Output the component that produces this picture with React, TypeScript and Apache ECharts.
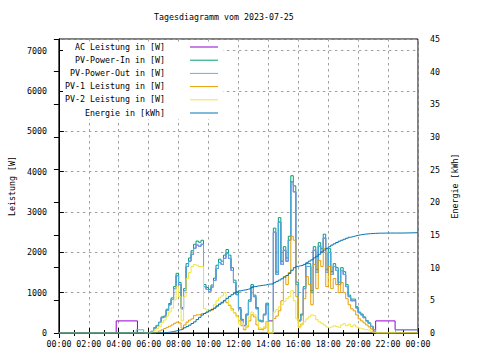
import React, { useEffect, useRef } from "react";
import * as echarts from "echarts";

const chartTitle = "Tagesdiagramm vom 2023-07-25";
const seriesNames = [
  "AC Leistung in [W]",
  "PV-Power-In in [W]",
  "PV-Power-Out in [W]",
  "PV-1 Leistung in [W]",
  "PV-2 Leistung in [W]",
  "Energie in [kWh]",
];
const seriesColors = ["#9400d3", "#009e73", "#56b4e9", "#e69f00", "#f0e442", "#0072b2"];
const leftAxisName = "Leistung [W]";
const rightAxisName = "Energie [kWh]";
const hourTicks = [0, 2, 4, 6, 8, 10, 12, 14, 16, 18, 20, 22, 24];
const powerTicks = [0, 1000, 2000, 3000, 4000, 5000, 6000, 7000];
const energyTicks = [0, 5, 10, 15, 20, 25, 30, 35, 40, 45];

// daytime samples: every 10 minutes from 05:00 to 22:30
const dayStartHour = 5;
const stepMinutes = 10;

const pvOut = [
  0, 80, 80, 80, 0, 0, 0, 40, 120, 180,
  260, 380, 400, 560, 700, 830, 1100, 1420, 1200, 600,
  1050, 1650, 1780, 1950, 2100, 2180, 2150, 2200, 1150, 1080,
  1030, 1140, 1300, 1600, 1750, 1700, 1850, 1980, 1850, 1550,
  1250, 950, 600, 320, 180, 450, 780, 1150, 900, 600,
  300, 280, 450, 700, 0, 0, 2500, 1450, 2750, 1700,
  2050, 1780, 2300, 3750, 3500, 1200, 300, 450, 1100, 1650,
  1650, 1000, 2050, 1500, 2150, 2000, 2350, 1500, 2000, 1450,
  1650, 1550, 1200, 1550, 1450, 1150, 900, 800, 800, 620,
  500, 450, 380, 300, 240, 160, 80, 0, 0, 0,
  0, 0, 0, 0, 0, 80,
];
const pvIn = [
  0, 0, 0, 0, 0, 0, 0, 40, 130, 190,
  270, 400, 420, 590, 730, 870, 1150, 1480, 1250, 630,
  1100, 1720, 1860, 2040, 2200, 2280, 2250, 2300, 1200, 1130,
  1080, 1190, 1360, 1680, 1830, 1780, 1930, 2070, 1930, 1620,
  1310, 1000, 630, 340, 190, 470, 820, 1200, 940, 630,
  320, 300, 470, 740, 0, 0, 2600, 1510, 2860, 1780,
  2140, 1860, 2400, 3900, 3650, 1260, 320, 470, 1150, 1720,
  1720, 1050, 2140, 1570, 2240, 2090, 2450, 1570, 2090, 1520,
  1720, 1620, 1260, 1620, 1520, 1200, 940, 840, 840, 650,
  520, 470, 400, 310, 250, 170, 85, 0, 0, 0,
  0, 0, 0, 0, 0, 0,
];
const pv1 = [
  0, 0, 0, 0, 0, 0, 0, 0, 0, 20,
  50, 80, 110, 140, 170, 200, 240, 270, 250, 120,
  200, 270, 320, 350, 430, 450, 460, 480, 490, 520,
  550, 570, 620, 680, 720, 740, 790, 750, 680, 600,
  500, 420, 300, 180, 80, 150, 300, 450, 400, 200,
  90, 75, 120, 280, 0, 0, 360, 420, 550, 800,
  1400, 1200, 1500, 2400, 2300, 900, 150, 220, 850, 1400,
  1200, 700, 1700, 1100, 1800, 1650, 2100, 1150, 1650, 1100,
  1350, 1200, 1000, 1250, 1000, 850, 700, 600, 550, 450,
  350, 300, 250, 200, 150, 100, 40, 0, 0, 0,
  0, 0, 0, 0, 0, 0,
];
const pv2 = [
  0, 0, 0, 0, 0, 0, 0, 20, 60, 110,
  160, 260, 320, 420, 520, 620, 820, 1150, 900, 300,
  900, 1350, 1500, 1650, 1700, 1680, 1650, 1650, 600, 570,
  560, 600, 700, 800, 870, 920, 1000, 850, 700, 560,
  500, 400, 220, 250, 120, 180, 400, 520, 450, 300,
  130, 110, 160, 270, 0, 0, 520, 580, 650, 700,
  780, 850, 900, 1050, 800, 350, 130, 200, 280, 350,
  400, 450, 430, 330, 280, 240, 200, 150, 130, 150,
  180, 160, 140, 200, 230, 180, 220, 160, 200, 150,
  120, 110, 90, 80, 70, 40, 0, 0, 0, 0,
  0, 0, 0, 0, 0, 0,
];
const energyKwh = [
  0, 0, 0, 0, 0, 0, 0, 0, 0, 0,
  0, 0.02, 0.05, 0.1, 0.15, 0.22, 0.3, 0.4, 0.5, 0.6,
  0.8, 1.0, 1.2, 1.45, 1.7, 2.05, 2.4, 2.75, 3.0, 3.2,
  3.4, 3.6, 3.8, 4.1, 4.4, 4.7, 5.0, 5.3, 5.6, 5.85,
  6.1, 6.3, 6.45, 6.55, 6.6, 6.7, 6.8, 6.95, 7.1, 7.2,
  7.25, 7.3, 7.35, 7.45, 7.5, 7.5, 7.7, 7.9, 8.1, 8.3,
  8.55, 8.8, 9.1, 9.6, 10.0, 10.2, 10.3, 10.35, 10.5, 10.75,
  11.0, 11.2, 11.5, 11.75, 12.05, 12.4, 12.7, 12.95, 13.2, 13.45,
  13.65, 13.85, 14.05, 14.2, 14.35, 14.5, 14.65, 14.75, 14.85, 14.95,
  15.02, 15.08, 15.13, 15.17, 15.2, 15.23, 15.25, 15.27, 15.28, 15.28,
  15.29, 15.29, 15.3, 15.3, 15.3, 15.3,
];

// night segments outside the daytime samples: [hour, value]
const zeroStart = [[0, 0]];
const zeroEnd = [[24, 0]];
const outEnd = [[24, 80]];
const energyEnd = [[23.0, 15.35], [24, 15.45]];
const acStart = [[0, 0], [3.83, 300], [5.25, 0]];
const acEnd = [[21.17, 300], [22.47, 80], [24, 80]];
const acOverride: Record<number, number> = { 54: 300, 55: 300 };
const acFromIndex = 6;
const acToIndex = 96;

const FONT = "DejaVu Sans Mono";
const FS = 8.3;

export default function App() {
  const ref = useRef<HTMLDivElement>(null);
  useEffect(() => {
    if (!ref.current) return;
    const chart = echarts.init(ref.current, undefined, { renderer: "svg" });
    const hours = pvOut.map((_, i) => dayStartHour + (i * stepMinutes) / 60);
    const pair = (arr: number[]) => arr.map((v, i) => [hours[i], v]);
    const acDay: number[][] = [];
    for (let i = acFromIndex; i <= acToIndex; i++) {
      acDay.push([hours[i], acOverride[i] !== undefined ? acOverride[i] : pvOut[i]]);
    }
    const dataSets = [
      [...acStart, ...acDay, ...acEnd],
      [...zeroStart, ...pair(pvIn), ...zeroEnd],
      [...zeroStart, ...pair(pvOut), ...outEnd],
      [...zeroStart, ...pair(pv1), ...zeroEnd],
      [...zeroStart, ...pair(pv2), ...zeroEnd],
      [...zeroStart, ...pair(energyKwh), ...energyEnd],
    ];
    const gridLeft = 58, gridRight = 418, gridTop = 39, gridBottom = 333;
    const splitStyle = { color: "#a0a0a0", width: 1, type: [2.5, 3.5] as any };
    const legendX = 165;
    const legendY0 = 46.5;
    const legendDy = 13.2;
    const graphics: any[] = [
      {
        type: "rect",
        shape: { x: 63, y: 44, width: 160, height: 75 },
        style: { fill: "#fff" },
        z: 50,
      },
    ];
    seriesNames.forEach((n, k) => {
      const y = legendY0 + legendDy * k;
      graphics.push({
        type: "text",
        x: legendX,
        y,
        z: 51,
        style: {
          text: n,
          fill: "#000",
          font: `${FS}px '${FONT}'`,
          textAlign: "right",
          textVerticalAlign: "middle",
        },
      });
      graphics.push({
        type: "line",
        z: 51,
        shape: { x1: 190, y1: y + 0.5, x2: 218, y2: y + 0.5 },
        style: { stroke: seriesColors[k], lineWidth: 1 },
      });
    });

    const txt = { fontFamily: FONT, fontSize: FS, color: "#000" };
    chart.setOption({
      animation: false,
      backgroundColor: "#fff",
      title: {
        text: chartTitle,
        left: 154,
        top: 13,
        padding: 0,
        textStyle: { ...txt, fontWeight: "normal" },
      },
      grid: {
        left: gridLeft,
        top: gridTop,
        width: gridRight - gridLeft,
        height: gridBottom - gridTop,
        show: true,
        borderColor: "#000",
        borderWidth: 1,
        containLabel: false,
      },
      xAxis: [
        {
          type: "value",
          min: hourTicks[0],
          max: hourTicks[hourTicks.length - 1],
          interval: 2,
          position: "bottom",
          axisLine: { lineStyle: { color: "#000", width: 1 } },
          axisTick: { inside: true, length: 5, lineStyle: { color: "#000" } },
          minorTick: { show: true, splitNumber: 2, length: 3, lineStyle: { color: "#000" } },
          axisLabel: {
            ...txt,
            margin: 7,
            formatter: (v: number) => String(v % 24).padStart(2, "0") + ":00",
          },
          splitLine: { show: true, lineStyle: splitStyle },
        },
        {
          type: "value",
          min: hourTicks[0],
          max: hourTicks[hourTicks.length - 1],
          interval: 2,
          position: "top",
          axisLine: { lineStyle: { color: "#000", width: 1 } },
          axisTick: { inside: true, length: 5, lineStyle: { color: "#000" } },
          minorTick: { show: true, splitNumber: 2, length: 3, lineStyle: { color: "#000" } },
          axisLabel: { show: false },
          splitLine: { show: false },
        },
      ],
      yAxis: [
        {
          type: "value",
          min: powerTicks[0],
          max: 7290,
          interval: 1000,
          position: "left",
          name: leftAxisName,
          nameLocation: "middle",
          nameGap: 42,
          nameRotate: 90,
          nameTextStyle: txt,
          axisLine: { show: true, lineStyle: { color: "#000", width: 1 } },
          axisTick: { show: true, inside: true, length: 5, lineStyle: { color: "#000" } },
          axisLabel: {
            ...txt,
            margin: 12,
            showMaxLabel: false,
            formatter: (v: number) => (powerTicks.includes(v) ? String(v) : ""),
          },
          splitLine: { show: true, lineStyle: splitStyle },
        },
        {
          type: "value",
          min: energyTicks[0],
          max: energyTicks[energyTicks.length - 1],
          interval: 5,
          position: "right",
          name: rightAxisName,
          nameLocation: "middle",
          nameGap: 30,
          nameRotate: 90,
          nameTextStyle: txt,
          axisLine: { show: true, lineStyle: { color: "#000", width: 1 } },
          axisTick: { show: true, inside: true, length: 5, lineStyle: { color: "#000" } },
          axisLabel: { ...txt, margin: 12 },
          splitLine: { show: false },
        },
      ],
      series: dataSets.map((d, k) => ({
        name: seriesNames[k],
        type: "line",
        step: "end",
        data: d,
        yAxisIndex: k === 5 ? 1 : 0,
        xAxisIndex: 0,
        showSymbol: false,
        symbol: "none",
        lineStyle: { color: seriesColors[k], width: 1 },
        itemStyle: { color: seriesColors[k] },
        z: 2 + k,
      })),
      graphic: graphics,
    });
    return () => chart.dispose();
  }, []);
  return <div ref={ref} style={{ width: 480, height: 360, position: "absolute", left: 0, top: 0 }} />;
}
